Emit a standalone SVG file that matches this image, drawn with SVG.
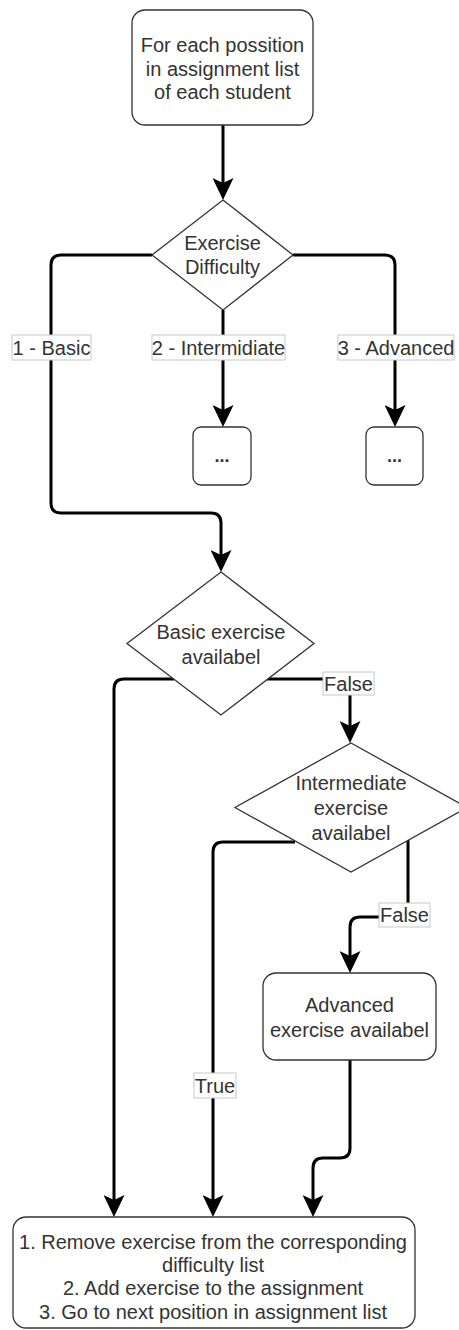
<svg xmlns="http://www.w3.org/2000/svg" width="459" height="1330" viewBox="0 0 459 1330">
<style>
.node{fill:#fff;stroke:#333;stroke-width:1.3}
.t{font-family:"Liberation Sans",Arial,sans-serif;font-size:20px;fill:#333;text-anchor:middle}
.c{fill:none;stroke:#000;stroke-width:3}
.lb{fill:#fff;stroke:#c8c8c8;stroke-width:1}
.dots{font-weight:bold;font-size:18px}
</style>
<defs>
<marker id="arr" markerUnits="userSpaceOnUse" viewBox="0 0 22 21" markerWidth="22" markerHeight="21" refX="12" refY="10.5" orient="auto">
<path d="M0,0 L22,10.5 L0,21 L5,10.5 Z" fill="#000"/>
</marker>
</defs>
<rect width="459" height="1330" fill="#fff"/>
<g id="connectors">
<path class="c" marker-end="url(#arr)" d="M223,125 V190"/>
<path class="c" marker-end="url(#arr)" d="M152,255 H61 Q51,255 51,265 V503 Q51,513 61,513 H211 Q221,513 221,523 V562"/>
<path class="c" marker-end="url(#arr)" d="M223,310 V417"/>
<path class="c" marker-end="url(#arr)" d="M293,255 H385 Q395,255 395,265 V417"/>
<path class="c" marker-end="url(#arr)" d="M174,679 H124 Q114,679 114,689 V1207"/>
<path class="c" marker-end="url(#arr)" d="M267,679 H340 Q350,679 350,689 V733"/>
<path class="c" marker-end="url(#arr)" d="M295,842 H223 Q213,842 213,852 V1207"/>
<path class="c" marker-end="url(#arr)" d="M408,840 V907 Q408,917 398,917 H360 Q350,917 350,927 V963"/>
<path class="c" marker-end="url(#arr)" d="M350,1060 V1148 Q350,1158 340,1158 H323 Q313,1158 313,1168 V1207"/>
</g>
<g id="labels">
<rect class="lb" x="12" y="335" width="79" height="25"/>
<text class="t" x="51.5" y="354.5">1 - Basic</text>
<rect class="lb" x="152" y="335" width="133" height="25"/>
<text class="t" x="218.5" y="354.5">2 - Intermidiate</text>
<rect class="lb" x="338" y="335" width="116" height="25"/>
<text class="t" x="396" y="354.5">3 - Advanced</text>
<rect class="lb" x="323" y="672" width="51" height="23"/>
<text class="t" x="348.5" y="690.5">False</text>
<rect class="lb" x="379" y="903" width="51" height="24"/>
<text class="t" x="404.5" y="922">False</text>
<rect class="lb" x="194" y="1073" width="42" height="25"/>
<text class="t" x="215" y="1092.5">True</text>
</g>
<g id="start">
<rect class="node" x="132" y="10" width="181" height="115" rx="13"/>
<text class="t" x="222.5" y="52">For each possition</text>
<text class="t" x="222.5" y="75.5">in assignment list</text>
<text class="t" x="222.5" y="99">of each student</text>
</g>
<g id="difficulty">
<polygon class="node" points="223,200 293,255 223,310 152,255"/>
<text class="t" x="222.5" y="250">Exercise</text>
<text class="t" x="222.5" y="274">Difficulty</text>
</g>
<g id="intermediate-box">
<rect class="node" x="193" y="427" width="58" height="58" rx="8"/>
<text class="t dots" x="222" y="462">...</text>
</g>
<g id="advanced-box">
<rect class="node" x="366" y="427" width="57" height="58" rx="8"/>
<text class="t dots" x="394.5" y="462">...</text>
</g>
<g id="basic-available">
<polygon class="node" points="221,572 314,643.5 221,715 127,643.5"/>
<text class="t" x="221" y="639">Basic exercise</text>
<text class="t" x="221" y="664">availabel</text>
</g>
<g id="intermediate-available">
<polygon class="node" points="351,743 467,807.5 351,872 235,807.5"/>
<text class="t" x="351" y="790">Intermediate</text>
<text class="t" x="351" y="815">exercise</text>
<text class="t" x="351" y="840">availabel</text>
</g>
<g id="advanced-available">
<rect class="node" x="263" y="973" width="173" height="87" rx="13"/>
<text class="t" x="349.5" y="1012">Advanced</text>
<text class="t" x="349.5" y="1037">exercise availabel</text>
</g>
<g id="final">
<rect class="node" x="13" y="1217" width="402" height="111" rx="13"/>
<text class="t" x="213" y="1249">1. Remove exercise from the corresponding</text>
<text class="t" x="213" y="1272">difficulty list</text>
<text class="t" x="213" y="1295">2. Add exercise to the assignment</text>
<text class="t" x="213" y="1319">3. Go to next position in assignment list</text>
</g>
</svg>
